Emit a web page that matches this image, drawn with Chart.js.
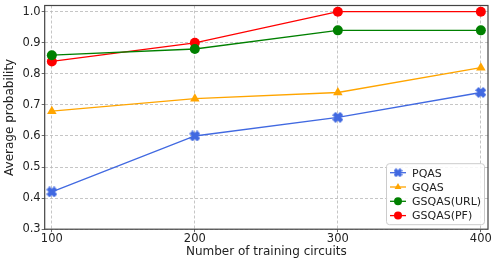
<!DOCTYPE html>
<html>
<head>
<meta charset="utf-8">
<script src="https://cdn.jsdelivr.net/npm/chart.js@4.4.0/dist/chart.umd.min.js"></script>
<style>
  html, body { margin: 0; padding: 0; background: #fff; }
  #wrap { width: 498px; height: 264px; }
</style>
</head>
<body>
<div id="wrap"><canvas id="chart" width="498" height="264"></canvas></div>
<script>
// data
const circuits = [100, 200, 300, 400];
const pqas = [0.42, 0.60, 0.66, 0.74];
const gqas = [0.68, 0.72, 0.74, 0.82];
const gsqasUrl = [0.86, 0.88, 0.94, 0.94];
const gsqasPf = [0.84, 0.90, 1.00, 1.00];
const xTicks = [100, 200, 300, 400];
const yTicks = [0.3, 0.4, 0.5, 0.6, 0.7, 0.8, 0.9, 1.0];

const font = 'DejaVu Sans';

// filled "X" marker like matplotlib
function makeX(color, size) {
    const c = document.createElement('canvas');
    c.width = size; c.height = size;
    const g = c.getContext('2d');
    const s = size, t = s * 0.2;
    g.fillStyle = color;
    g.translate(s / 2, s / 2);
    g.rotate(Math.PI / 4);
    g.fillRect(-s / 2, -t, s, 2 * t);
    g.fillRect(-t, -s / 2, 2 * t, s);
    return c;
}
const xMarker = makeX('#4169e1', 11);
const xMarkerSmall = makeX('#4169e1', 9);

function pts(ys) {
    return circuits.map((x, i) => ({x: x, y: ys[i]}));
}

// solid frame around plot area
const framePlugin = {
    id: 'frame',
    afterDraw(chart) {
        const a = chart.chartArea, ctx = chart.ctx;
        ctx.save();
        ctx.strokeStyle = '#444';
        ctx.lineWidth = 1.2;
        ctx.strokeRect(a.left, a.top, a.right - a.left, a.bottom - a.top);
        ctx.restore();
    }
};

// legend box in lower right like matplotlib
const legendPlugin = {
    id: 'boxLegend',
    afterDraw(chart) {
        const ctx = chart.ctx, a = chart.chartArea;
        const w = 98, h = 61;
        const x0 = a.right - w - 4, y0 = a.bottom - h - 5;
        ctx.save();
        ctx.fillStyle = 'rgba(255,255,255,0.85)';
        ctx.strokeStyle = '#ccc';
        ctx.lineWidth = 1;
        ctx.beginPath();
        ctx.roundRect(x0 + 0.5, y0 + 0.5, w, h, 3);
        ctx.fill();
        ctx.stroke();
        ctx.font = '11px ' + font;
        ctx.textBaseline = 'middle';
        chart.data.datasets.forEach((ds, i) => {
            const y = y0 + 9.5 + i * 14.3;
            ctx.strokeStyle = ds.borderColor;
            ctx.lineWidth = 1.3;
            ctx.beginPath();
            ctx.moveTo(x0 + 4, y);
            ctx.lineTo(x0 + 20, y);
            ctx.stroke();
            ctx.fillStyle = ds.backgroundColor;
            const ps = ds.pointStyle === xMarker ? xMarkerSmall : ds.pointStyle;
            Chart.helpers.drawPoint(ctx, {pointStyle: ps, radius: 4, borderWidth: 0}, x0 + 12, y);
            ctx.fillStyle = '#222';
            ctx.fillText(ds.label, x0 + 26, y + 1);
        });
        ctx.restore();
    }
};

new Chart(document.getElementById('chart').getContext('2d'), {
    type: 'line',
    data: {
        datasets: [
            {label: 'PQAS', data: pts(pqas), borderColor: '#4169e1', backgroundColor: '#4169e1',
             pointStyle: xMarker, pointRadius: 5, borderWidth: 1.3, pointBorderWidth: 0},
            {label: 'GQAS', data: pts(gqas), borderColor: '#ffa500', backgroundColor: '#ffa500',
             pointStyle: 'triangle', pointRadius: 5.5, borderWidth: 1.3, pointBorderWidth: 0},
            {label: 'GSQAS(URL)', data: pts(gsqasUrl), borderColor: '#008000', backgroundColor: '#008000',
             pointStyle: 'circle', pointRadius: 5, borderWidth: 1.3, pointBorderWidth: 0},
            {label: 'GSQAS(PF)', data: pts(gsqasPf), borderColor: '#ff0000', backgroundColor: '#ff0000',
             pointStyle: 'circle', pointRadius: 5, borderWidth: 1.3, pointBorderWidth: 0}
        ]
    },
    options: {
        responsive: false,
        animation: false,
        layout: {padding: {top: 5, right: 10, left: 3, bottom: 6}},
        plugins: {legend: {display: false}, tooltip: {enabled: false}},
        scales: {
            x: {
                type: 'linear',
                min: 95, max: 405,
                afterBuildTicks: s => { s.ticks = xTicks.map(v => ({value: v})); },
                afterFit: s => { s.paddingLeft = 0; s.paddingRight = 0; },
                ticks: {color: '#222', font: {family: font, size: 11.5}, padding: 0},
                grid: {color: '#b8b8b8', lineWidth: 0.8, tickLength: 3, tickColor: '#444'},
                border: {display: false, dash: [3, 2]},
                title: {display: true, text: 'Number of training circuits', color: '#222',
                        font: {family: font, size: 12, lineHeight: 1.0}, padding: {top: 0, bottom: 0}}
            },
            y: {
                min: 0.3, max: 1.02,
                afterBuildTicks: s => { s.ticks = yTicks.map(v => ({value: v})); },
                afterFit: s => { s.paddingTop = 0; s.paddingBottom = 0; },
                ticks: {color: '#222', font: {family: font, size: 11.5}, padding: 1,
                        callback: v => v.toFixed(1)},
                grid: {color: '#b8b8b8', lineWidth: 0.8, tickLength: 3, tickColor: '#444'},
                border: {display: false, dash: [3, 2]},
                title: {display: true, text: 'Average probability', color: '#222',
                        font: {family: font, size: 12}, padding: {top: 0, bottom: 4}}
            }
        }
    },
    plugins: [framePlugin, legendPlugin]
});
</script>
</body>
</html>
